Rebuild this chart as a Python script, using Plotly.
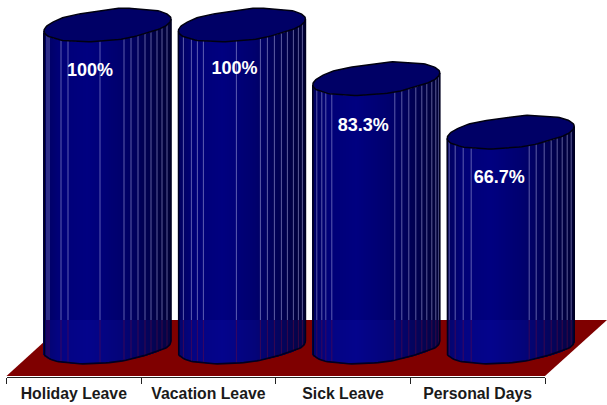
import numpy as np
import plotly.graph_objects as go

# ---- data ----
categories = ["Holiday Leave", "Vacation Leave", "Sick Leave", "Personal Days"]
values = [100, 100, 83.3, 66.7]
value_labels = ["100%", "100%", "83.3%", "66.7%"]

# ---- pixel styling / layout constants ----
W, H = 607, 405
PX_X = 134.4      # px per category
PX_Y = 3.22       # px per percent
CX0 = 107.5       # px of first cylinder centre
CY0 = 347         # px of cylinder base centre
RX, RY, TILT = 63.5, 15.5, 6
x_range = [-CX0 / PX_X, (W - CX0) / PX_X]
y_range = [(CY0 - H) / PX_Y, CY0 / PX_Y]
FLOOR_BACK_PX = 320
floor_px = [(6.5, 376), (545, 376), (607, FLOOR_BACK_PX), (68, FLOOR_BACK_PX)]
label_dx = [-17.5, -7.5, -13, -11.5]
label_dy = [46, 44, 48, 46]
rib_offsets = [
    [3, 5, 17, 24, 56, 80, 87, 94, 101, 107, 113, 118, 123],
    [5, 13, 19, 25, 58, 82, 89, 96, 103, 109, 115, 120, 124],
    [4, 9, 13, 19, 82, 89, 96, 103, 109, 114, 119, 123, 126],
    [2, 8, 16, 24, 82, 89, 97, 104, 110, 115, 120, 124],
]
rim_wobble = [0, .6, .2, -.8, -.2, .5, 0, .3, -.3, .4, -.5, .6, -.6, .4, 0, .7, 0, -.7, 0, .5, -.6, .3, 0, -.3]
grad_t = [0, .12, .35, .6, .8, 1]
grad_b = [95, 118, 128, 110, 82, 55]


def xv(i, dx=0):
    return i + dx / PX_X


def yv(v, dy=0):
    return v - dy / PX_Y


def lower_dy(off):
    """px below centre of the front ellipse edge at px offset from the centre"""
    u = np.clip(off / RX, -1, 1)
    return RY * np.sqrt(1 - u * u) - TILT * u


fig = go.Figure()
floor_v = (CY0 - FLOOR_BACK_PX) / PX_Y

for i, v in enumerate(values):
    offs = np.arange(-RX + .5, RX, 1.0)
    xs = [xv(i, o) for o in offs]
    base = [yv(0, lower_dy(o)) for o in offs]
    t = (offs + RX) / (2 * RX)
    blues = np.interp(t, grad_t, grad_b)
    fig.add_trace(go.Bar(x=xs, y=[v] * len(xs), base=base, width=1.08 / PX_X, xaxis="x", yaxis="y",
                         marker=dict(color=[f"rgb(0,0,{b:.0f})" for b in blues], line_width=0),
                         showlegend=False, hoverinfo="skip"))
    low_h = [max(floor_v - b, 0) for b in base]
    fig.add_trace(go.Bar(x=xs, y=low_h, base=base, width=1.08 / PX_X, xaxis="x", yaxis="y",
                         marker=dict(color=[f"rgb(4,4,{min(b + 12, 255):.0f})" for b in blues], line_width=0),
                         showlegend=False, hoverinfo="skip"))

    # ribs
    up_x, up_y, lo_x, lo_y = [], [], [], []
    for r in rib_offsets[i]:
        o = r - RX
        b = yv(0, lower_dy(o))
        up_x += [xv(i, o), xv(i, o), None]
        up_y += [floor_v, v + b, None]
        lo_x += [xv(i, o), xv(i, o), None]
        lo_y += [b, floor_v, None]
    fig.add_trace(go.Scatter(x=up_x, y=up_y, mode="lines", line=dict(color="rgba(170,170,225,0.55)", width=1),
                             showlegend=False, hoverinfo="skip"))
    fig.add_trace(go.Scatter(x=lo_x, y=lo_y, mode="lines", line=dict(color="rgba(110,10,60,0.5)", width=1),
                             showlegend=False, hoverinfo="skip"))

    # sides and bottom outline
    th = np.linspace(np.pi, 0, 60)
    ox = RX * np.cos(th)
    oy = RY * np.sin(th) - TILT * np.cos(th)
    wob = np.interp(th, np.linspace(0, np.pi, 12), rim_wobble[:12])
    side_x = [xv(i, -RX)] + [xv(i, a) for a in ox] + [xv(i, RX)]
    side_y = [yv(v, TILT)] + [yv(0, b + w) for b, w in zip(oy, wob)] + [yv(v, -TILT)]
    fig.add_trace(go.Scatter(x=side_x, y=side_y, mode="lines", line=dict(color="#000020", width=1.6),
                             showlegend=False, hoverinfo="skip"))

    # top ellipse
    th2 = np.linspace(0, 2 * np.pi, 145)
    wob2 = np.interp(th2, np.linspace(0, 2 * np.pi, 25), rim_wobble + [rim_wobble[0]])
    ex = RX * np.cos(th2)
    ey = (RY + wob2) * np.sin(th2) - TILT * np.cos(th2)
    fig.add_trace(go.Scatter(x=[xv(i, a) for a in ex], y=[yv(v, b) for b in ey], mode="lines",
                             fill="toself", fillcolor="#000066", line=dict(color="#000010", width=1.5),
                             showlegend=False, hoverinfo="skip"))

# value labels
fig.add_trace(go.Scatter(
    x=[xv(i, label_dx[i]) for i in range(len(values))],
    y=[yv(v, label_dy[i]) for i, v in enumerate(values)],
    mode="text", text=value_labels,
    textfont=dict(family="Liberation Sans", size=18, color="white", weight="bold"),
    showlegend=False, hoverinfo="skip"))

# category axis carrier
cat_idx = list(range(len(categories)))
fig.add_trace(go.Scatter(x=cat_idx, y=[0] * len(cat_idx), xaxis="x2", yaxis="y", mode="markers",
                         marker=dict(opacity=0), showlegend=False, hoverinfo="skip"))

floor_path = "M " + " L ".join(
    f"{(px - CX0) / PX_X:.4f},{(CY0 - py) / PX_Y:.4f}" for px, py in floor_px) + " Z"

fig.update_layout(
    width=W, height=H, margin=dict(l=0, r=0, t=0, b=0), autosize=False,
    paper_bgcolor="white", plot_bgcolor="rgba(0,0,0,0)", barmode="overlay", showlegend=False,
    font=dict(family="Liberation Sans"),
    shapes=[dict(type="path", path=floor_path, fillcolor="#7f0000", line=dict(width=0), layer="below",
                 xref="x", yref="y")],
    xaxis=dict(range=x_range, visible=False, fixedrange=True, domain=[0, 1]),
    yaxis=dict(range=y_range, visible=False, fixedrange=True, domain=[0, 1]),
    xaxis2=dict(
        anchor="free", position=1 - 376.5 / H, side="bottom",
        domain=[6.5 / W, 545 / W], range=[-0.5, 3.5],
        tickmode="array", tickvals=cat_idx, ticktext=categories, ticks="",
        ticklabelstandoff=3,
        tickfont=dict(family="Liberation Sans", size=15.8, color="#1a1a1a", weight="bold"),
        showgrid=False, zeroline=False, showline=True, linecolor="#222", linewidth=1,
        minor=dict(tickmode="array", tickvals=[-.5, .5, 1.5, 2.5, 3.5], ticks="outside",
                   ticklen=6, tickwidth=1, tickcolor="#222", showgrid=False),
        fixedrange=True,
    ),
)
fig.write_html("out.html", post_script="document.body.style.margin='0';",
               config={"displayModeBar": False})
